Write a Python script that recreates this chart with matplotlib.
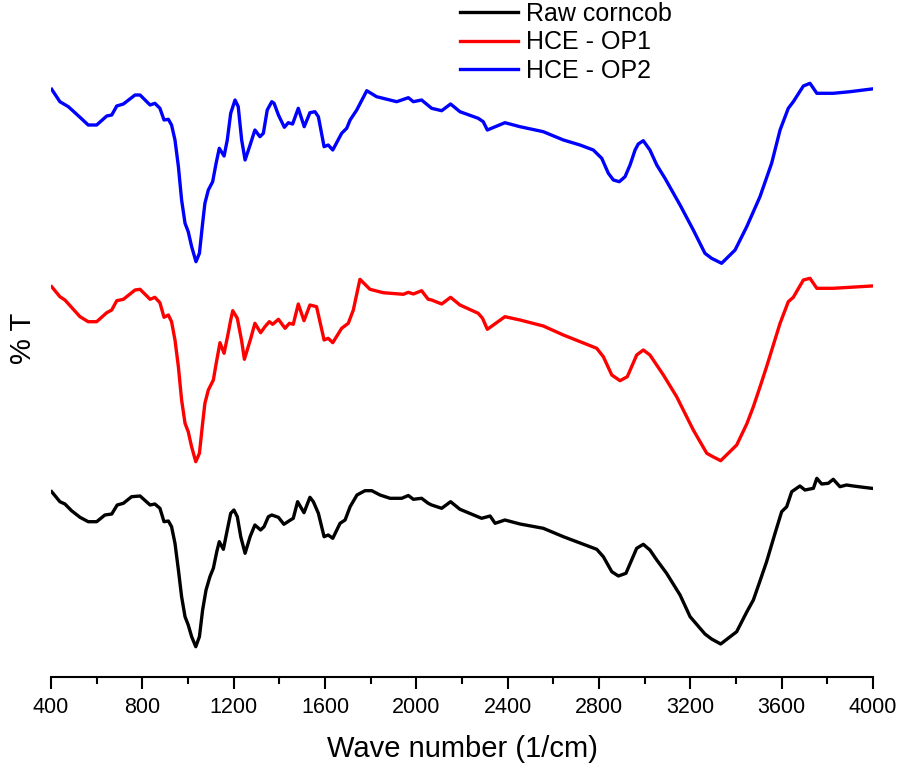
"""FTIR spectra of raw corncob and HCE samples."""

import numpy as np
import matplotlib
matplotlib.use('Agg')
import matplotlib.pyplot as plt
from matplotlib.ticker import MultipleLocator

plt.rcParams['font.family'] = ['Liberation Sans', 'DejaVu Sans']

# wave numbers [1/cm] and %T (arbitrary units, curves stacked with offsets)
raw_wn = [403, 439, 461, 490, 527, 563, 600, 636, 666, 690,
          717, 753, 790, 834, 855, 877, 895, 914, 928, 943,
          958, 972, 987, 1001, 1016, 1034, 1050, 1064, 1079, 1096,
          1111, 1126, 1137, 1155, 1169, 1187, 1201, 1216, 1231, 1250,
          1272, 1293, 1318, 1333, 1352, 1367, 1396, 1420, 1444, 1461,
          1480, 1508, 1534, 1549, 1571, 1596, 1614, 1634, 1666, 1688,
          1710, 1740, 1775, 1805, 1841, 1885, 1936, 1965, 1987, 2023,
          2052, 2067, 2111, 2150, 2191, 2286, 2323, 2345, 2366, 2388,
          2454, 2556, 2644, 2790, 2819, 2856, 2885, 2918, 2965, 2994,
          3023, 3053, 3096, 3155, 3199, 3264, 3293, 3333, 3403, 3447,
          3476, 3505, 3534, 3571, 3600, 3622, 3644, 3680, 3702, 3739,
          3754, 3775, 3804, 3826, 3855, 3884, 3914, 3958, 3994]
raw_t = [185.3, 175.3, 173.0, 166.3, 159.7, 155.3, 155.3, 162.0, 163.0, 172.0,
         173.7, 180.3, 181.0, 172.0, 173.0, 168.7, 155.3, 156.0, 150.3, 133.7,
         107.0, 80.3, 60.3, 52.0, 40.3, 30.3, 40.3, 67.0, 87.0, 100.3,
         108.7, 125.3, 135.3, 127.7, 143.7, 163.7, 167.0, 160.3, 140.3, 123.7,
         140.3, 152.0, 147.0, 150.3, 160.3, 162.0, 159.7, 152.7, 156.3, 158.7,
         175.3, 164.3, 179.7, 175.3, 163.7, 140.3, 142.0, 138.7, 153.7, 157.0,
         170.3, 182.0, 186.3, 186.3, 182.0, 178.7, 178.7, 181.5, 177.7, 178.7,
         173.7, 172.0, 168.7, 175.3, 167.7, 158.7, 161.0, 153.7, 155.3, 157.0,
         153.0, 148.7, 140.3, 127.7, 120.3, 105.3, 101.0, 103.7, 128.7, 132.7,
         127.0, 117.0, 103.7, 82.0, 60.3, 43.0, 38.0, 33.0, 45.3, 65.0,
         77.0, 96.0, 115.3, 143.7, 165.3, 170.3, 185.3, 191.0, 187.0, 188.7,
         198.7, 193.0, 193.7, 197.7, 190.3, 192.0, 191.0, 189.7, 188.7]

op1_wn = [403, 439, 461, 527, 563, 600, 644, 666, 688, 717,
          768, 790, 834, 855, 877, 895, 914, 928, 943, 958,
          972, 987, 1001, 1016, 1034, 1050, 1064, 1074, 1089, 1111,
          1123, 1140, 1158, 1176, 1187, 1196, 1216, 1235, 1247, 1275,
          1293, 1318, 1337, 1356, 1371, 1396, 1425, 1444, 1461, 1483,
          1508, 1534, 1563, 1596, 1614, 1634, 1673, 1702, 1724, 1753,
          1797, 1855, 1943, 1965, 1987, 2023, 2052, 2067, 2111, 2150,
          2191, 2271, 2290, 2311, 2388, 2454, 2556, 2644, 2790, 2819,
          2856, 2892, 2924, 2965, 2994, 3023, 3082, 3140, 3213, 3272,
          3293, 3333, 3403, 3447, 3476, 3505, 3534, 3593, 3629, 3651,
          3695, 3724, 3754, 3826, 3899, 3994]
op1_t = [390.3, 380.3, 377.0, 360.3, 355.3, 355.3, 364.3, 367.0, 376.3, 377.7,
         387.0, 387.7, 377.7, 379.7, 374.3, 359.7, 362.0, 355.3, 337.0, 310.0,
         277.0, 253.7, 245.3, 230.0, 215.3, 223.7, 253.7, 273.7, 287.0, 297.0,
         313.0, 334.3, 323.7, 343.7, 357.0, 366.3, 358.7, 336.0, 317.7, 338.7,
         353.7, 344.3, 350.3, 355.3, 352.7, 357.7, 348.7, 353.7, 352.7, 373.0,
         356.3, 372.0, 370.3, 337.0, 338.7, 334.3, 348.7, 353.7, 367.0, 397.7,
         387.7, 384.3, 382.7, 384.7, 383.0, 386.3, 377.7, 377.0, 373.0, 379.7,
         372.0, 363.7, 358.7, 347.7, 360.3, 357.0, 351.0, 342.0, 328.7, 320.3,
         302.0, 296.3, 300.3, 322.0, 327.0, 322.0, 302.0, 280.3, 247.0, 223.7,
         221.0, 216.3, 232.0, 253.0, 270.3, 290.0, 310.3, 353.7, 375.3, 379.7,
         397.0, 398.7, 388.7, 388.7, 389.7, 391.0]

op2_wn = [403, 439, 476, 527, 563, 600, 644, 666, 688, 717,
          768, 790, 834, 855, 877, 895, 914, 928, 943, 958,
          972, 987, 1001, 1016, 1035, 1050, 1064, 1074, 1089, 1108,
          1123, 1137, 1158, 1172, 1187, 1206, 1220, 1235, 1250, 1272,
          1293, 1315, 1330, 1347, 1367, 1377, 1396, 1422, 1439, 1458,
          1483, 1509, 1534, 1556, 1571, 1596, 1614, 1634, 1673, 1695,
          1710, 1739, 1783, 1826, 1914, 1965, 1987, 2023, 2067, 2111,
          2150, 2191, 2271, 2293, 2311, 2388, 2454, 2556, 2644, 2717,
          2775, 2812, 2841, 2863, 2889, 2914, 2936, 2958, 2972, 2994,
          3023, 3053, 3089, 3155, 3213, 3264, 3293, 3337, 3396, 3447,
          3505, 3556, 3593, 3629, 3651, 3695, 3724, 3739, 3754, 3826,
          3899, 3994]
op2_t = [587.7, 575.3, 570.3, 559.7, 552.0, 552.0, 561.0, 562.0, 571.0, 573.0,
         582.0, 582.0, 572.0, 573.7, 568.7, 557.0, 557.7, 552.0, 537.0, 510.3,
         477.0, 453.7, 445.3, 430.3, 415.3, 423.7, 453.7, 473.7, 487.0, 495.3,
         513.7, 528.7, 521.0, 537.0, 563.7, 577.0, 570.3, 537.0, 517.0, 532.0,
         547.0, 540.3, 543.7, 567.0, 575.3, 573.7, 562.0, 549.7, 554.3, 553.0,
         568.7, 550.3, 564.3, 565.3, 560.3, 530.3, 532.0, 527.0, 543.7, 548.7,
         557.0, 567.0, 586.3, 580.3, 575.3, 579.3, 575.3, 577.0, 568.7, 566.3,
         573.0, 565.3, 558.7, 555.3, 547.0, 554.3, 550.3, 545.3, 537.0, 532.0,
         527.0, 518.7, 503.7, 497.0, 495.3, 500.3, 512.0, 527.0, 533.0, 536.3,
         527.0, 512.0, 498.7, 472.0, 447.0, 423.7, 418.7, 413.7, 427.0, 450.3,
         480.3, 513.7, 547.0, 568.7, 575.3, 591.0, 593.7, 588.7, 583.7, 583.7,
         585.3, 588.0]

labels = ['Raw corncob', 'HCE - OP1', 'HCE - OP2']
colors = ['black', 'red', 'blue']


def plot_spectra():
    """."""
    fig = plt.figure(figsize=(8.98, 7.71), dpi=100)
    ax = fig.add_axes([51/898, 1 - 677/771, 822/898, 677/771])

    series = [(raw_wn, raw_t), (op1_wn, op1_t), (op2_wn, op2_t)]
    for (wn, t), lab, col in zip(series, labels, colors):
        ax.plot(np.array(wn), np.array(t), color=col, lw=2.4, label=lab,
                solid_joinstyle='round')

    ax.set_xlim(400, 4000)
    ax.set_ylim(0, 677)
    ax.xaxis.set_major_locator(MultipleLocator(400))
    ax.xaxis.set_minor_locator(MultipleLocator(200))
    ax.tick_params(axis='x', which='major', direction='out', length=8.5,
                   width=1.5, labelsize=15.5, pad=6)
    ax.tick_params(axis='x', which='minor', direction='out', length=4.8,
                   width=1.5)
    ax.set_yticks([])
    for side in ['left', 'top', 'right']:
        ax.spines[side].set_visible(False)
    ax.spines['bottom'].set_linewidth(1.5)

    ax.set_xlabel('Wave number (1/cm)', fontsize=21, labelpad=12)
    ax.set_ylabel('% T', fontsize=21, labelpad=10)

    ax.legend(loc='upper left', bbox_to_anchor=(460/898, 0.998),
              bbox_transform=fig.transFigure, frameon=False, fontsize=18,
              handlelength=2.3, handletextpad=0.35, labelspacing=0.19,
              borderpad=0, borderaxespad=0)

    fig.savefig('out.png', dpi=100)


if __name__ == '__main__':
    plot_spectra()
